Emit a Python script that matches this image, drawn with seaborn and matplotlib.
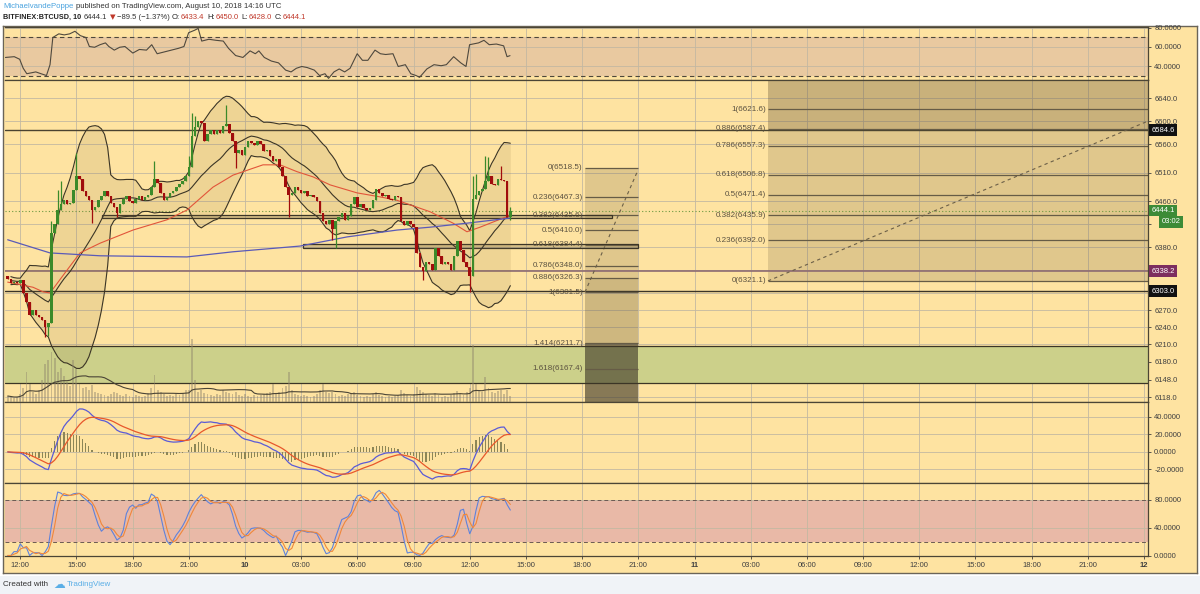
import numpy as np
import pandas as pd
import matplotlib
matplotlib.use("Agg")
import matplotlib.pyplot as plt
import matplotlib.transforms as mtransforms
from matplotlib.patches import Rectangle
import seaborn as sns

sns.set_theme(style="white")
plt.rcParams['font.family'] = ['Liberation Sans', 'DejaVu Sans']

# ---- data: BITFINEX:BTCUSD, 10 min bars ----
bar_start = "2018-08-09 11:20"
closes = [
    6325, 6318, 6320, 6318, 6322, 6300, 6285, 6262, 6270, 6262,
    6258, 6252, 6240, 6248, 6405, 6420, 6445, 6455, 6462, 6455,
    6458, 6480, 6505, 6500, 6478, 6470, 6462, 6445, 6450, 6462,
    6470, 6478, 6470, 6458, 6450, 6440, 6455, 6465, 6470, 6460,
    6458, 6465, 6470, 6462, 6468, 6472, 6485, 6500, 6492, 6475,
    6462, 6468, 6475, 6478, 6485, 6490, 6495, 6505, 6520, 6575,
    6590, 6600, 6598, 6565, 6578, 6585, 6578, 6585, 6580, 6592,
    6595, 6580, 6565, 6545, 6550, 6542, 6555, 6565, 6562, 6558,
    6565, 6560, 6548, 6550, 6540, 6530, 6535, 6520, 6505, 6485,
    6472, 6475, 6485, 6480, 6475, 6478, 6470, 6472, 6468, 6460,
    6440, 6425, 6420, 6428, 6412, 6425, 6432, 6440, 6428, 6435,
    6455, 6468, 6450, 6455, 6448, 6445, 6448, 6462, 6482, 6475,
    6470, 6472, 6465, 6462, 6470, 6468, 6425, 6418, 6425, 6420,
    6415, 6370, 6345, 6338, 6355, 6350, 6340, 6378, 6365, 6350,
    6355, 6350, 6340, 6365, 6390, 6375, 6355, 6345, 6330, 6465,
    6472, 6478, 6482, 6495, 6505, 6490, 6488, 6500, 6498, 6495,
    6433.4, 6444.1,
]
first_open = 6330.0
wick_highs = {14: 6425, 16: 6480, 17: 6495, 22: 6545, 47: 6530, 58: 6540,
              59: 6615, 60: 6610, 70: 6628, 149: 6505, 150: 6508, 153: 6540,
              154: 6538, 158: 6522, 161: 6450}
wick_lows = {12: 6223, 13: 6225, 27: 6422, 35: 6432, 73: 6518, 90: 6432,
             104: 6392, 105: 6378, 133: 6322, 148: 6302, 161: 6428}
volumes = [
    6, 5, 4, 5, 8, 14, 30, 18, 10, 8,
    12, 22, 38, 42, 50, 44, 30, 34, 26, 20,
    16, 42, 33, 18, 14, 15, 12, 17, 10, 9,
    8, 7, 6, 8, 10, 9, 7, 6, 8, 6,
    5, 7, 6, 5, 6, 9, 14, 27, 12, 10,
    8, 6, 7, 6, 8, 7, 9, 12, 12, 63,
    22, 10, 12, 9, 8, 7, 6, 8, 7, 12,
    10, 9, 8, 10, 7, 6, 8, 6, 5, 7,
    6, 7, 8, 9, 10, 18, 9, 10, 14, 16,
    30, 12, 8, 7, 6, 7, 6, 5, 6, 8,
    12, 18, 10, 9, 10, 8, 6, 7, 6, 8,
    9, 10, 7, 6, 5, 6, 5, 8, 10, 7,
    6, 5, 6, 5, 6, 7, 12, 9, 7, 6,
    8, 15, 12, 10, 8, 7, 6, 9, 7, 5,
    6, 5, 7, 9, 11, 8, 7, 10, 14, 57,
    18, 12, 10, 25, 14, 10, 9, 11, 12, 8,
    12, 6,
]
# moving averages (hours from Aug 10 00:00 UTC)
red_ma_time = [-12.67, -11.32, -10.78, -10.41, -9.5, -8.81, -7.74, -5.98, -4.16,
               -3.1, -1.71, -0.64, 0.96, 1.87, 2.78, 3.63, 4.54, 5.98, 7.21,
               8.12, 9.88, 11.11, 11.85, 12.55, 14.17]
red_ma = [6319, 6310, 6302, 6300, 6340, 6370, 6387, 6410, 6428,
          6445, 6485, 6506, 6524, 6524, 6512, 6503, 6489, 6475, 6468,
          6462, 6442, 6422, 6407, 6415, 6436]
blue_ma_time = [-12.67, -10.41, -7.74, -3.1, -0.64, 1.87, 2.94, 5.45, 8.12,
                9.88, 11.85, 14.17]
blue_ma = [6393, 6370, 6365, 6363, 6372, 6379, 6382, 6398, 6410,
           6415, 6422, 6431]

# RSI line (hours, value)
rsi_time = [-12.79, -12.32, -12.03, -11.84, -11.65, -11.37, -11.17, -10.89, -10.60,
            -10.41, -10.26, -9.94, -9.65, -9.36, -9.08, -8.79, -8.50, -8.31, -8.03,
            -7.74, -7.45, -7.27, -6.98, -6.69, -6.41, -5.99, -5.64, -5.26, -4.98,
            -4.69, -4.31, -3.93, -3.55, -3.26, -3.01, -2.69, -2.50, -2.31, -1.93,
            -1.54, -1.16, -0.88, -0.50, -0.11, 0.27, 0.55, 0.74, 1.03, 1.41,
            1.79, 2.17, 2.46, 2.74, 3.03, 3.32, 3.70, 3.98, 4.27, 4.46,
            4.75, 5.03, 5.32, 5.61, 5.99, 6.27, 6.56, 6.94, 7.23, 7.51,
            7.90, 8.18, 8.56, 8.85, 9.13, 9.32, 9.71, 10.09, 10.47, 10.75,
            11.14, 11.52, 11.80, 11.99, 12.47, 12.76, 13.04, 13.42, 13.81, 13.99,
            14.15]
rsi_vals = [49.0, 49.8, 47.1, 37.6, 31.9, 33.0, 33.8, 31.9, 30.0,
            41.4, 70.0, 73.8, 72.7, 73.8, 76.5, 71.9, 70.0, 60.5, 59.7,
            62.4, 64.3, 60.5, 56.7, 59.7, 60.5, 53.6, 57.4, 56.7, 62.4,
            52.9, 54.8, 56.7, 58.6, 60.5, 75.0, 77.6, 79.5, 66.2, 68.1,
            67.0, 66.2, 58.6, 51.0, 49.0, 55.9, 52.9, 55.9, 49.0, 45.2,
            43.3, 35.7, 33.8, 37.6, 39.5, 38.4, 35.7, 30.0, 31.9, 27.0,
            33.8, 36.9, 33.8, 37.6, 52.9, 46.0, 46.0, 56.7, 52.9, 52.1,
            52.9, 39.5, 41.4, 31.9, 30.0, 28.1, 36.9, 41.4, 40.3, 41.4,
            49.8, 43.3, 39.5, 62.4, 64.3, 67.0, 62.4, 63.1, 61.2, 49.8,
            50.9]

fib_a_ratio = ['0', '0.236', '0.382', '0.5', '0.618', '0.786', '0.886', '1', '1.414', '1.618']
fib_a_price = [6518.5, 6467.3, 6435.6, 6410.0, 6384.4, 6348.0, 6326.3, 6301.5, 6211.7, 6167.4]
fib_b_ratio = ['1', '0.886', '0.786', '0.618', '0.5', '0.382', '0.236', '0']
fib_b_price = [6621.6, 6587.4, 6557.3, 6506.8, 6471.4, 6435.9, 6392.0, 6321.1]
level_prices = [6584.6, 6338.2, 6303.0]
support_zone = (6143.0, 6208.0)
last_price = 6444.1

price_ticks = [6118, 6148, 6180, 6210, 6240, 6270, 6300, 6340, 6380, 6420,
               6460, 6510, 6560, 6600, 6640]
hidden_ticks = [6300, 6340, 6420]   # covered by the price tags on the reference
time_ticks = list(range(-12, 49, 3))
time_labels = ['12:00', '15:00', '18:00', '21:00', '10', '03:00', '06:00', '09:00',
               '12:00', '15:00', '18:00', '21:00', '11', '03:00', '06:00', '09:00',
               '12:00', '15:00', '18:00', '21:00', '12']

# ---- colours ----
BG = '#fee3a1'
GRID = '#c3b8a2'
DARK = '#3b3526'
GREEN = '#3b8a2a'
RED = '#a00c0c'

W, H = 1200, 594


def rect(x0, y0, x1, y1):
    return [x0 / W, 1 - y1 / H, (x1 - x0) / W, (y1 - y0) / H]


def hx(px):
    # pixel column on the reference -> hours from Aug 10 00:00
    return (px - 245) / 18.73


def line(ax, x, y, **kw):
    x = np.asarray(x, float)
    y = np.asarray(y, float)
    m = np.isfinite(y)
    sns.lineplot(x=x[m], y=y[m], ax=ax, legend=False, **kw)


# ---- derived series ----
t0 = pd.Timestamp("2018-08-10 00:00")
times = pd.date_range(bar_start, periods=len(closes), freq="10min")
tx = ((times - t0) / pd.Timedelta(hours=1)).to_numpy()
c = np.array(closes, float)
o = np.r_[first_open, c[:-1]]
hi = np.maximum(o, c)
lo = np.minimum(o, c)
for i, v in wick_highs.items():
    hi[i] = v
for i, v in wick_lows.items():
    lo[i] = v

s = pd.Series(c)
bb_mid = s.rolling(20, min_periods=2).mean()
bb_sd = s.rolling(20, min_periods=2).std(ddof=0)
bb_up = bb_mid + 2 * bb_sd
bb_lo = bb_mid - 2 * bb_sd

macd = s.ewm(span=12, adjust=False).mean() - s.ewm(span=26, adjust=False).mean()
signal = macd.ewm(span=9, adjust=False).mean()
hist = macd - signal

hh = pd.Series(hi).rolling(14, min_periods=1).max()
ll = pd.Series(lo).rolling(14, min_periods=1).min()
k_raw = 100 * (s - ll) / (hh - ll)
stoch_k = k_raw.rolling(3, min_periods=1).mean()
stoch_d = stoch_k.rolling(3, min_periods=1).mean()

vol = pd.Series(volumes, dtype=float)
vol_ma = vol.rolling(20, min_periods=1).mean()

# ---- figure ----
fig = plt.figure(figsize=(12, 5.94), dpi=100, facecolor='white')
fig.patches.append(Rectangle((0, 0), 1, 1 - 576 / H, transform=fig.transFigure,
                             fc='#f0f3f7', ec='none', zorder=0))

frame = fig.add_axes(rect(3, 26, 1197, 573))
frame.set_facecolor(BG)
frame.set_xticks([])
frame.set_yticks([])
for sp in frame.spines.values():
    sp.set_color('#6a6458')
    sp.set_linewidth(1.0)

ax_rsi = fig.add_axes(rect(5, 27, 1148, 80))
ax = fig.add_axes(rect(5, 80, 1148, 402))
ax_macd = fig.add_axes(rect(5, 402, 1148, 483))
ax_st = fig.add_axes(rect(5, 483, 1148, 556))

# volume overlay on the price pane
vax = ax.twinx()
vax.set_ylim(0, 322)
vax.set_yticks([])
for sp in vax.spines.values():
    sp.set_visible(False)

xlim = (hx(5), hx(1148))
for a in (ax_rsi, ax, ax_macd, ax_st):
    a.set_facecolor(BG)
    a.set_xlim(*xlim)
    a.set_xticks(time_ticks)
    a.grid(True, axis='both', color=GRID, lw=0.6, zorder=0)
    a.set_axisbelow(True)
    a.yaxis.tick_right()
    a.tick_params(axis='y', which='both', right=True, left=False, labelright=True,
                  labelleft=False, direction='out', length=2.5, width=0.6, pad=2,
                  labelsize=5.5, labelcolor='#404040', color='#404040')
    a.tick_params(axis='x', bottom=False, labelbottom=False)
    for name, sp in a.spines.items():
        sp.set_color('#4b4535')
        sp.set_linewidth(0.9)
    a.spines['left'].set_visible(False)
vax.set_xlim(*xlim)

# ---- RSI panel ----
ax_rsi.set_ylim(25.3, 81)
ax_rsi.axhspan(30, 70, color='#e9c9a0', zorder=0.5, lw=0)
for lvl in (30, 70):
    ax_rsi.axhline(lvl, color='#4d473a', lw=0.8, ls=(0, (4, 3)), zorder=1)
ax_rsi.set_yticks([40, 60, 80])
ax_rsi.set_yticklabels(['40.0000', '60.0000', '80.0000'])
line(ax_rsi, rsi_time, rsi_vals, color='#4f493e', lw=0.8)

# ---- main price panel ----
ax.set_ylim(6109.4, 6672.3)
ax.set_yticks(price_ticks)
ax.set_yticklabels(['' if v in hidden_ticks else f"{v:.1f}" for v in price_ticks])

ax.axhspan(*support_zone, color='#ccd08a', zorder=0.6, lw=0)
for lvl in support_zone:
    ax.axhline(lvl, color=DARK, lw=0.9, zorder=1.2)
ax.axhline(level_prices[0], color='#4a4330', lw=1.0, zorder=1.2)
ax.axhline(level_prices[1], color='#8d6b72', lw=1.2, zorder=1.2)
ax.axhline(level_prices[2], color='#3a3428', lw=1.0, zorder=1.2)
ax.axhline(last_price, color='#6d9a42', lw=0.8, ls=(0, (1, 2)), zorder=1.2)

# right fib retracement
fb0, fb1 = hx(768), xlim[1]
ax.fill_between([fb0, fb1], fib_b_price[-1], fib_b_price[1], color='#6b5a3a', alpha=0.2, lw=0, zorder=0.8)
ax.fill_between([fb0, fb1], fib_b_price[1], 6672.3, color='#6b5a3a', alpha=0.36, lw=0, zorder=0.8)
for r, p in zip(fib_b_ratio, fib_b_price):
    ax.hlines(p, fb0, fb1, color='#665c46', lw=0.9, zorder=1.3)
    ax.text(fb0 - 0.1, p, f"{r}({p:.1f})", ha='right', va='center', fontsize=5.8,
            color='#5a5140', zorder=6)
ax.plot([fb0, fb1], [fib_b_price[-1], 6600.5], color='#6b5f48', lw=0.8,
        ls=(0, (3, 3)), zorder=1.4)

# left fib retracement
fa0, fa1 = hx(585), hx(638)
ax.fill_between([fa0, fa1], fib_a_price[6], fib_a_price[0], color='#6b5a3a', alpha=0.2, lw=0, zorder=0.8)
ax.fill_between([fa0, fa1], fib_a_price[8], fib_a_price[6], color='#6b5a3a', alpha=0.32, lw=0, zorder=0.8)
ax.fill_between([fa0, fa1], 6109.4, fib_a_price[8], color='#3e3828', alpha=0.62, lw=0, zorder=0.8)
for r, p in zip(fib_a_ratio, fib_a_price):
    ax.hlines(p, fa0, fa1, color='#665c46', lw=0.9, zorder=1.3)
    ax.text(fa0 - 0.12, p, f"{r}({p:.1f})", ha='right', va='center', fontsize=5.8,
            color='#5a5140', zorder=6)
ax.plot([fa0, fa1], [fib_a_price[7], 6515.0], color='#6b5f48', lw=0.8,
        ls=(0, (3, 3)), zorder=1.4)

# horizontal boxes
for x0, x1, y0, hgt in [(102, 612, 6430.5, 5.8), (303, 638, 6378.6, 7.0)]:
    ax.add_patch(Rectangle((hx(x0), y0), hx(x1) - hx(x0), hgt, fc='#8a7a55',
                           alpha=0.35, ec='none', zorder=1.5))
    ax.add_patch(Rectangle((hx(x0), y0), hx(x1) - hx(x0), hgt, fc='none',
                           ec=DARK, lw=0.9, zorder=1.6))

# bollinger bands
ax.fill_between(tx[1:], bb_lo[1:], bb_up[1:], color='#8a7040', alpha=0.13, lw=0, zorder=1.7)
line(ax, tx, bb_up, color=DARK, lw=0.8, zorder=2)
line(ax, tx, bb_lo, color=DARK, lw=0.8, zorder=2)
line(ax, tx, bb_mid, color=DARK, lw=0.8, zorder=2)

# moving averages
line(ax, red_ma_time, red_ma, color='#e2553a', lw=0.8, zorder=2.2)
line(ax, blue_ma_time, blue_ma, color='#5a5ab8', lw=0.9, zorder=2.2)

# volume
vax.bar(tx, volumes, width=0.1, color='#8f856d', alpha=0.45, lw=0, zorder=1)
line(vax, tx, vol_ma, color='#4a4436', lw=0.8, zorder=2)

# candles (drawn on top)
up = c >= o
col = np.where(up, GREEN, RED)
vax.vlines(tx, lo, hi, colors=col, lw=0.9, zorder=4, transform=ax.transData)
vax.bar(tx, np.maximum(np.abs(c - o), 1.5), bottom=np.minimum(o, c), width=0.135,
        color=col, lw=0, zorder=5, transform=ax.transData)

# price tags on the axis
tag = mtransforms.blended_transform_factory(ax.transAxes, ax.transData)


def price_tag(y, txt, fc, x=1.003):
    vax.text(x, y, txt, transform=tag, fontsize=5.5, color='white', va='center',
             ha='left', clip_on=False, zorder=20,
             bbox=dict(boxstyle='square,pad=0.3', fc=fc, ec='none'))


price_tag(6584.6, '6584.6', '#111111')
price_tag(6444.1, '6444.1', '#3d8b37')
price_tag(6424.5, '03:02', '#3d8b37', x=1.012)
price_tag(6338.2, '6338.2', '#7d2e5f')
price_tag(6303.0, '6303.0', '#111111')

# ---- MACD panel ----
ax_macd.set_ylim(-35.5, 57)
ax_macd.set_yticks([-20, 0, 20, 40])
ax_macd.set_yticklabels(['-20.0000', '0.0000', '20.0000', '40.0000'])
ax_macd.bar(tx, hist, width=0.06, color='#8c8657', lw=0, zorder=2)
line(ax_macd, tx, macd, color='#5b5bd6', lw=0.9, zorder=3)
line(ax_macd, tx, signal, color='#e8572b', lw=0.9, zorder=3)

# ---- Stochastic panel ----
ax_st.set_ylim(-0.7, 104.3)
ax_st.axhspan(20, 80, color='#e9b9a7', zorder=0.5, lw=0)
for lvl in (20, 80):
    ax_st.axhline(lvl, color='#6b5a52', lw=0.7, ls=(0, (4, 3)), zorder=1)
ax_st.set_yticks([0, 40, 80])
ax_st.set_yticklabels(['0.0000', '40.0000', '80.0000'])
line(ax_st, tx, stoch_k, color='#5e82dc', lw=0.8, zorder=3)
line(ax_st, tx, stoch_d, color='#f0873a', lw=0.8, zorder=3)

ax_st.tick_params(axis='x', bottom=True, labelbottom=True, direction='out', length=2.5,
                  width=0.6, pad=2, labelsize=5.5, labelcolor='#404040', color='#404040')
ax_st.set_xticklabels(time_labels)
for lbl in ax_st.get_xticklabels():
    if ':' not in lbl.get_text():
        lbl.set_fontweight('bold')

# ---- header and footer: runs of text placed one after another ----
renderer = fig.canvas.get_renderer()


def text_run(px, py, parts, size=6):
    for txt, color, extra, gap in parts:
        kw = dict(va='center', ha='left', fontsize=size, color=color)
        kw.update(extra)
        t = fig.text(px / W, 1 - py / H, txt, **kw)
        px += t.get_window_extent(renderer).width + gap


text_run(3, 7, [
    ('MichaelvandePoppe', '#4aa3df', {}, 2.5),
    ('published on TradingView.com, August 10, 2018 14:16 UTC', '#333333', {}, 0),
], size=5.6)
text_run(3, 17.5, [
    ('BITFINEX:BTCUSD, 10', '#222222', {'fontweight': 'bold', 'fontsize': 5.2}, 3),
    ('6444.1', '#333333', {}, 2),
    ('\u25bc', '#c0392b', {'family': ['DejaVu Sans'], 'fontsize': 5.2}, 1.5),
    ('\u221289.5 (\u22121.37%)', '#333333', {}, 2.5),
    ('O:', '#222222', {}, 1),
    ('6433.4', '#c0392b', {}, 2.5),
    ('H:', '#222222', {}, 1),
    ('6450.0', '#c0392b', {}, 2.5),
    ('L:', '#222222', {}, 1),
    ('6428.0', '#c0392b', {}, 2.5),
    ('C:', '#222222', {}, 1),
    ('6444.1', '#c0392b', {}, 0),
], size=5.5)
text_run(3, 584, [
    ('Created with', '#333333', {}, 5),
    ('\u2601', '#5aaee6', {'family': ['DejaVu Sans'], 'fontsize': 8.5}, 2),
    ('TradingView', '#5aaee6', {}, 0),
], size=5.8)

fig.savefig('out.png', dpi=100, facecolor=fig.get_facecolor())
